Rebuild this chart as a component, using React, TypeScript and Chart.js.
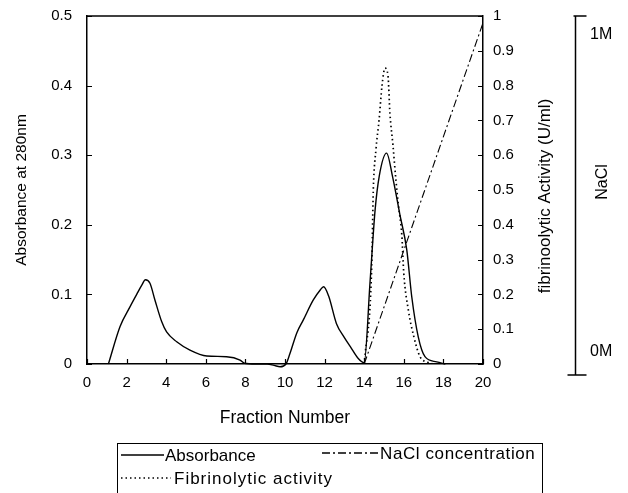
import React, { useEffect, useRef } from "react";
import { Chart, registerables } from "chart.js";

Chart.register(...registerables);

// ---- data ----
const absorbanceFraction = [1.08, 1.67, 2.17, 2.51, 2.76, 2.95, 3.18, 3.43, 3.77, 4.02, 4.53, 5.2, 6.05, 7.05, 7.73, 7.95, 8.5, 9.1, 9.45, 9.75, 10.05, 10.25, 10.6, 10.92, 11.43, 11.77, 11.95, 12.2, 12.6, 13.0, 13.3, 13.7, 14.0, 14.3, 14.55, 14.76, 15.13, 15.44, 15.8, 16.15, 16.4, 16.73, 17.07, 17.66, 18.1];
const absorbanceValues = [0.0, 0.054, 0.082, 0.1, 0.113, 0.121, 0.116, 0.092, 0.061, 0.046, 0.032, 0.02, 0.0115, 0.0105, 0.0057, 0.001, 0.0, 0.0, -0.002, -0.004, 0.0, 0.015, 0.045, 0.063, 0.092, 0.106, 0.111, 0.098, 0.058, 0.038, 0.025, 0.008, 0.002, 0.12, 0.221, 0.27, 0.303, 0.268, 0.215, 0.164, 0.097, 0.039, 0.0105, 0.003, 0.0];

const activityFraction = [14.0, 14.38, 14.46, 14.6, 14.75, 14.9, 15.05, 15.2, 15.3, 15.45, 15.6, 15.72, 15.9, 16.0, 16.23, 16.5, 16.82, 17.2, 17.5];
const activityValues = [0.0, 0.28, 0.5, 0.62, 0.7, 0.8, 0.85, 0.83, 0.72, 0.63, 0.53, 0.46, 0.37, 0.26, 0.155, 0.08, 0.021, 0.005, 0.0];

const naclFraction = [14, 20];
const naclValues = [0, 0.98];

const xTicks = [0, 2, 4, 6, 8, 10, 12, 14, 16, 18, 20];
const leftTicks = [0, 0.1, 0.2, 0.3, 0.4, 0.5];
const rightTicks = [0, 0.1, 0.2, 0.3, 0.4, 0.5, 0.6, 0.7, 0.8, 0.9, 1];
const naclTickLabels = ["0M", "1M"];

const FONT = "'Liberation Sans', Arial, Helvetica, sans-serif";

const toPoints = (xs: number[], ys: number[]) => xs.map((x, i) => ({ x, y: ys[i] }));

const decorPlugin = {
  id: "decor",
  afterDraw(chart: any) {
    const { ctx, chartArea } = chart;
    const { left, right, top, bottom } = chartArea;
    const xs = chart.scales.x;
    const yl = chart.scales.y;
    const yr = chart.scales.y1;
    ctx.save();
    ctx.strokeStyle = "#000";
    ctx.fillStyle = "#000";
    ctx.lineWidth = 1.5;
    // top frame
    ctx.beginPath();
    ctx.moveTo(left, top);
    ctx.lineTo(right, top);
    ctx.stroke();
    // inward ticks
    ctx.lineWidth = 1.2;
    ctx.beginPath();
    xTicks.forEach((v) => {
      const px = Math.round(xs.getPixelForValue(v)) + 0.5;
      ctx.moveTo(px, bottom);
      ctx.lineTo(px, bottom - 5);
    });
    leftTicks.forEach((v) => {
      const py = Math.round(yl.getPixelForValue(v)) + 0.5;
      ctx.moveTo(left, py);
      ctx.lineTo(left + 5, py);
    });
    rightTicks.forEach((v) => {
      const py = Math.round(yr.getPixelForValue(v)) + 0.5;
      ctx.moveTo(right, py);
      ctx.lineTo(right - 5, py);
    });
    ctx.stroke();

    // right axis title
    ctx.font = `17px ${FONT}`;
    ctx.textAlign = "center";
    ctx.textBaseline = "middle";
    ctx.save();
    ctx.translate(545, (top + bottom) / 2 + 6);
    ctx.rotate(-Math.PI / 2);
    ctx.fillText("fibrinoolytic Activity (U/ml)", 0, 0);
    ctx.restore();

    // NaCl axis
    const ax = 575.5;
    const y1 = yr.getPixelForValue(1);
    const y0 = bottom + 11;
    ctx.lineWidth = 1.5;
    ctx.beginPath();
    ctx.moveTo(ax, y1);
    ctx.lineTo(ax, y0);
    ctx.moveTo(ax - 2, y1);
    ctx.lineTo(ax + 11, y1);
    ctx.moveTo(ax - 8, y0);
    ctx.lineTo(ax + 11, y0);
    ctx.stroke();
    ctx.font = `16px ${FONT}`;
    ctx.textAlign = "left";
    ctx.fillText(naclTickLabels[1], 590, y1 + 19);
    ctx.fillText(naclTickLabels[0], 590, y0 - 23);
    ctx.save();
    ctx.translate(603, 182);
    ctx.rotate(-Math.PI / 2);
    ctx.textAlign = "center";
    ctx.fillText("NaCl", 0, 0);
    ctx.restore();
    ctx.restore();
  },
};

function LegendSample({ dash, width }: { dash: string; width: number }) {
  return (
    <svg width={width} height={6} style={{ display: "block" }}>
      <line x1={0} y1={3} x2={width} y2={3} stroke="#000" strokeWidth={1.3} strokeDasharray={dash} />
    </svg>
  );
}

const noPad = (s: any) => {
  s.paddingTop = 0;
  s.paddingBottom = 0;
  s.paddingLeft = 0;
  s.paddingRight = 0;
};

export default function App() {
  const canvasRef = useRef<HTMLCanvasElement | null>(null);

  useEffect(() => {
    const canvas = canvasRef.current;
    if (!canvas) return;
    const tickFont = { family: FONT, size: 15 };
    const chart = new Chart(canvas, {
      type: "line",
      data: {
        datasets: [
          {
            label: "Absorbance",
            data: toPoints(absorbanceFraction, absorbanceValues),
            yAxisID: "y",
            borderColor: "#000",
            borderWidth: 1.4,
            pointRadius: 0,
            cubicInterpolationMode: "monotone",
            fill: false,
            clip: 8,
          },
          {
            label: "Fibrinolytic activity",
            data: toPoints(activityFraction, activityValues),
            yAxisID: "y1",
            borderColor: "#000",
            borderWidth: 1.7,
            borderDash: [1.5, 3],
            pointRadius: 0,
            cubicInterpolationMode: "monotone",
            fill: false,
          },
          {
            label: "NaCl concentration",
            data: toPoints(naclFraction, naclValues),
            yAxisID: "y1",
            borderColor: "#000",
            borderWidth: 1.1,
            borderDash: [8, 3, 2, 3],
            pointRadius: 0,
            fill: false,
          },
        ],
      },
      options: {
        responsive: false,
        animation: false,
        devicePixelRatio: 1,
        layout: { padding: { left: 0, right: 0, top: 16, bottom: 64 } },
        plugins: { legend: { display: false }, tooltip: { enabled: false } },
        scales: {
          x: {
            type: "linear",
            min: 0,
            max: 20,
            afterBuildTicks: (s: any) => {
              s.ticks = xTicks.map((v) => ({ value: v }));
            },
            ticks: { font: tickFont, color: "#000", padding: 10, autoSkip: false, maxRotation: 0, callback: (v: any) => String(v) },
            grid: { display: false, drawTicks: false },
            border: { display: true, color: "#000", width: 1.5 },
            title: { display: true, text: "Fraction Number", color: "#000", font: { family: FONT, size: 17.5 }, padding: 0 },
            afterFit: (s: any) => {
              s.height = 65;
              noPad(s);
            },
          },
          y: {
            type: "linear",
            position: "left",
            min: 0,
            max: 0.5,
            afterBuildTicks: (s: any) => {
              s.ticks = leftTicks.map((v) => ({ value: v }));
            },
            ticks: { font: tickFont, color: "#000", padding: 15, autoSkip: false, callback: (v: any) => String(v) },
            grid: { display: false, drawTicks: false },
            border: { display: true, color: "#000", width: 1.5 },
            title: { display: true, text: "Absorbance at 280nm", color: "#000", font: { family: FONT, size: 15.5 }, padding: { top: 12, bottom: 0 } },
            afterFit: (s: any) => {
              s.width = 87;
              noPad(s);
            },
          },
          y1: {
            type: "linear",
            position: "right",
            min: 0,
            max: 1,
            afterBuildTicks: (s: any) => {
              s.ticks = rightTicks.map((v) => ({ value: v }));
            },
            ticks: { font: tickFont, color: "#000", padding: 10, autoSkip: false, callback: (v: any) => String(v) },
            grid: { display: false, drawTicks: false },
            border: { display: true, color: "#000", width: 1.5 },
            afterFit: (s: any) => {
              s.width = 145;
              noPad(s);
            },
          },
        },
      },
      plugins: [decorPlugin],
    } as any);
    return () => chart.destroy();
  }, []);

  const textStyle: React.CSSProperties = {
    position: "absolute",
    fontFamily: FONT,
    fontSize: 17,
    lineHeight: "19px",
    color: "#000",
    whiteSpace: "nowrap",
  };

  return (
    <div style={{ position: "fixed", left: 0, top: 0, width: 628, height: 493, background: "#fff", overflow: "hidden" }}>
      <canvas ref={canvasRef} width={628} height={493} style={{ display: "block", width: 628, height: 493 }} />
      <div
        style={{
          position: "absolute",
          left: 117,
          top: 443,
          width: 424,
          height: 60,
          borderTop: "1.5px solid #000",
          borderLeft: "1px solid #000",
          borderRight: "1.5px solid #000",
        }}
      />
      <div style={{ position: "absolute", left: 121, top: 452 }}>
        <LegendSample dash="" width={43} />
      </div>
      <div style={{ ...textStyle, left: 165, top: 446 }}>Absorbance</div>
      <div style={{ position: "absolute", left: 322, top: 450 }}>
        <LegendSample dash="8 3 2 3" width={56} />
      </div>
      <div style={{ ...textStyle, left: 380, top: 444, letterSpacing: 0.6 }}>NaCl concentration</div>
      <div style={{ position: "absolute", left: 121, top: 475 }}>
        <LegendSample dash="1.5 3" width={50} />
      </div>
      <div style={{ ...textStyle, left: 174, top: 469, letterSpacing: 1 }}>Fibrinolytic activity</div>
    </div>
  );
}
